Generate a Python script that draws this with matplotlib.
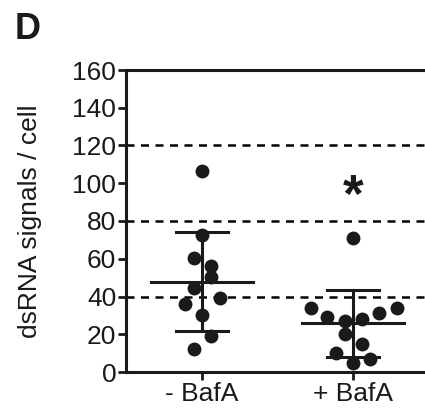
import numpy as np
import matplotlib
matplotlib.use('Agg')
import matplotlib.pyplot as plt

plt.rcParams['font.family'] = ['Liberation Sans', 'DejaVu Sans']

# data
groups = ['- BafA', '+ BafA']
minus_bafa = [106.6, 72.6, 60.2, 56.2, 50.2, 44.3, 39.4, 36.0, 30.2, 19.1, 12.0]
plus_bafa = [70.8, 33.7, 33.7, 31.1, 29.3, 27.2, 27.9, 20.0, 14.8, 9.9, 6.7, 4.6]
yticks = [0, 20, 40, 60, 80, 100, 120, 140, 160]
ref_lines = [40, 80, 120]

# horizontal scatter of the dots (in category units)
jit_minus = [0, 0, -0.056, 0.06, 0.06, -0.056, 0.117, -0.115, 0, 0.06, -0.056]
jit_plus = [0, -0.28, 0.29, 0.17, -0.17, -0.05, 0.06, -0.055, 0.06, -0.11, 0.115, 0]

fig = plt.figure(figsize=(4.25, 4.16), dpi=100)
ax = fig.add_axes([126/425, 1-372/416, 1-126/425, (372-70)/416])

for y in ref_lines:
    ax.axhline(y, color='black', lw=1.8, ls=(0, (3.2, 2.6)), zorder=1)

for i, (vals, jit) in enumerate([(minus_bafa, jit_minus), (plus_bafa, jit_plus)]):
    vals = np.array(vals)
    m = vals.mean()
    sd = vals.std(ddof=1)
    ax.scatter(i + np.array(jit), vals, s=100, color='#1a1a1a', zorder=3, linewidths=0)
    ax.plot([i - 0.34, i + 0.34], [m, m], color='#1a1a1a', lw=2.2, zorder=4)
    ax.plot([i, i], [m - sd, m + sd], color='#1a1a1a', lw=2.2, zorder=4)
    for yy in (m - sd, m + sd):
        ax.plot([i - 0.175, i + 0.175], [yy, yy], color='#1a1a1a', lw=2.2, zorder=4)

ax.text(1, 92, '*', ha='center', va='center', fontsize=38, fontweight='bold', color='#1a1a1a')

ax.set_xlim(-0.503, 1.477)
ax.set_ylim(0, 160)
ax.set_yticks(yticks)
ax.set_xticks([0, 1])
ax.set_xticklabels(groups)
ax.tick_params(labelsize=19, width=2, length=6, color='#1a1a1a', labelcolor='#1a1a1a', pad=1)
ax.set_ylabel('dsRNA signals / cell', fontsize=19, color='#1a1a1a', labelpad=22)

for s in ['left', 'bottom', 'top']:
    ax.spines[s].set_linewidth(2.2)
    ax.spines[s].set_color('#1a1a1a')
ax.spines['right'].set_visible(False)

fig.text(0.035, 0.97, 'D', fontsize=26, fontweight='bold', va='top', ha='left', color='#1a1a1a')

fig.savefig('out.png', dpi=100)
